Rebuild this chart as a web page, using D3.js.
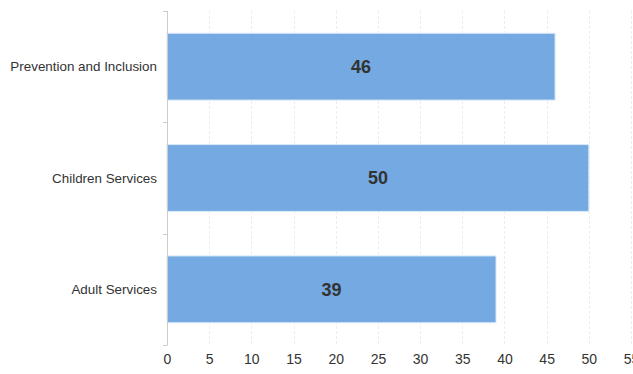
<!DOCTYPE html>
<html>
<head>
<meta charset="utf-8">
<script src="https://cdn.jsdelivr.net/npm/d3@7"></script>
<style>
  html, body { margin: 0; padding: 0; background: #fff; }
  svg { display: block; font-family: Arial, "Liberation Sans", sans-serif; }
</style>
</head>
<body>
<svg id="chart" width="633" height="374"></svg>
<script>
// Service areas and their counts
const categories = ["Prevention and Inclusion", "Children Services", "Adult Services"];
const values = [46, 50, 39];
const xTicks = [0, 5, 10, 15, 20, 25, 30, 35, 40, 45, 50, 55];

const svg = d3.select("#chart");
const margin = { top: 11, right: 2, bottom: 29, left: 167 };
const W = 633, H = 374;
const innerW = W - margin.left - margin.right;
const innerH = H - margin.top - margin.bottom;

const g = svg.append("g").attr("transform", `translate(${margin.left},${margin.top})`);

const x = d3.scaleLinear().domain([0, 55]).range([0, innerW]);
const y = d3.scaleBand().domain(categories).range([0, innerH]).paddingInner(0.4).paddingOuter(0.2);

// vertical grid lines
g.append("g").selectAll("line")
  .data(xTicks.slice(1))
  .join("line")
  .attr("x1", d => Math.round(x(d)) + 0.5).attr("x2", d => Math.round(x(d)) + 0.5)
  .attr("y1", 0).attr("y2", innerH)
  .attr("stroke", "#ededed")
  .attr("stroke-dasharray", "3,2");

// bars
g.append("g").selectAll("rect")
  .data(categories)
  .join("rect")
  .attr("x", 0)
  .attr("y", d => y(d))
  .attr("width", (d, i) => x(values[i]))
  .attr("height", y.bandwidth())
  .attr("fill", "#74a9e2")
  .attr("stroke", "#dbe9f8")
  .attr("stroke-width", 1);

// value labels
g.append("g").selectAll("text")
  .data(categories)
  .join("text")
  .attr("x", (d, i) => x(values[i]) / 2)
  .attr("y", d => y(d) + y.bandwidth() / 2)
  .attr("dy", "0.36em")
  .attr("text-anchor", "middle")
  .attr("font-size", 18)
  .attr("font-weight", "bold")
  .attr("fill", "#333")
  .text((d, i) => values[i]);

// left axis: line with band boundary ticks
const yAxis = g.append("g");
yAxis.append("line")
  .attr("x1", 0.5).attr("x2", 0.5).attr("y1", 0).attr("y2", innerH)
  .attr("stroke", "#ccc");
yAxis.selectAll("line.tick")
  .data([0, 1, 2, 3])
  .join("line")
  .attr("class", "tick")
  .attr("x1", -4).attr("x2", 0.5)
  .attr("y1", i => Math.round(i * innerH / 3) + 0.5)
  .attr("y2", i => Math.round(i * innerH / 3) + 0.5)
  .attr("stroke", "#ccc");

// category labels
g.append("g").selectAll("text")
  .data(categories)
  .join("text")
  .attr("x", -10)
  .attr("y", d => y(d) + y.bandwidth() / 2)
  .attr("dy", "0.36em")
  .attr("text-anchor", "end")
  .attr("font-size", 13.4)
  .attr("fill", "#333")
  .text(d => d);

// bottom axis labels
const xAxis = d3.axisBottom(x).tickValues(xTicks).tickSize(0).tickPadding(9);
const xg = g.append("g").attr("transform", `translate(0,${innerH})`).call(xAxis);
xg.select(".domain").remove();
xg.selectAll("text").attr("font-size", 14).attr("fill", "#333").attr("font-family", "Arial, 'Liberation Sans', sans-serif");
</script>
</body>
</html>
